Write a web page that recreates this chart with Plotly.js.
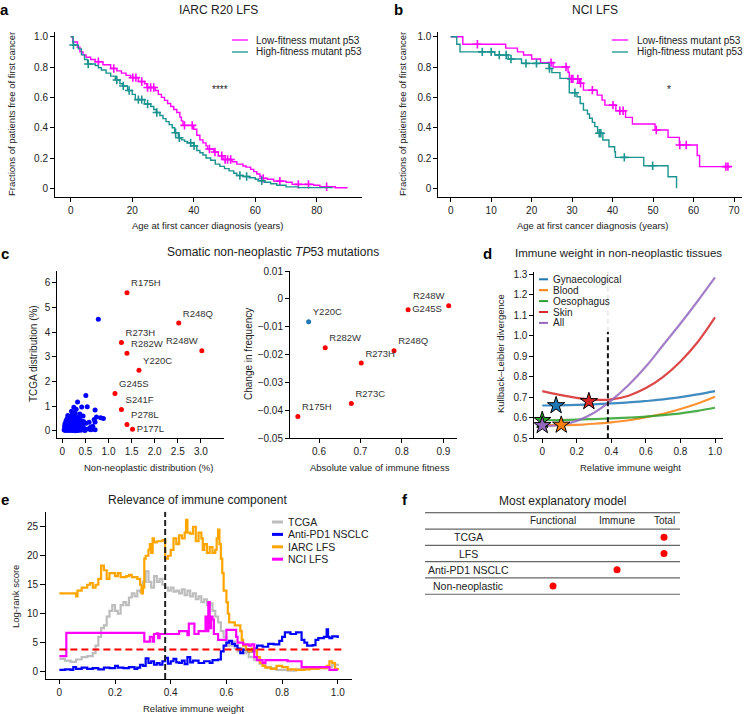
<!DOCTYPE html>
<html><head><meta charset="utf-8">
<script src="https://cdn.plot.ly/plotly-3.0.1.min.js"></script>
<style>html,body{margin:0;padding:0;background:#fff}</style>
</head><body><div id="chart" style="width:747px;height:714px"></div>
<script>
// ---------------- DATA ----------------
// Panel a: IARC R20 LFS Kaplan-Meier (step times / survival)
const aLowT = [0,0.7,2.2,3,4,5,6.5,8,10.5,13,15,16.5,18,19.5,22,24,24.8,27.5,28.5,29.5,30.5,31.5,32.5,33.5,34.5,35.5,36,36.5,40,41,42,43,44,44.5,46.5,48,49.5,52.5,54,56,57,58.5,59.5,60.5,61.5,62,64,66,70,72,79,81,86,90];
const aLowS = [1.0,0.965,0.93,0.9,0.88,0.865,0.85,0.835,0.815,0.79,0.775,0.76,0.745,0.73,0.705,0.69,0.665,0.645,0.62,0.60,0.58,0.56,0.54,0.52,0.50,0.47,0.445,0.415,0.39,0.35,0.32,0.30,0.28,0.26,0.24,0.215,0.19,0.175,0.16,0.147,0.14,0.125,0.11,0.095,0.08,0.066,0.06,0.048,0.04,0.026,0.02,0.011,0.004,0.004];
const aLowCens = [9,14,20.2,21.2,23.1,25,26,27,37,39.5,45.1,46.9,49.1,50.2,51,52,62.6,68,74,77.3,83.2];
const aHighT = [0,0.8,2.5,3.5,4.5,5.5,8,9,10,11.5,13,14.5,16,17,18.5,20,21,24,26,27,27.8,29,30,31,32,33,33.8,35,36,37,38,40,41,42,43,44,45.5,47,48.5,50,51.5,53,54,56,58,60,61,63,65,67,70,74,85];
const aHighS = [1.0,0.945,0.92,0.88,0.85,0.82,0.81,0.795,0.78,0.76,0.74,0.715,0.69,0.675,0.645,0.62,0.585,0.556,0.54,0.52,0.50,0.48,0.46,0.44,0.42,0.40,0.367,0.334,0.32,0.31,0.30,0.28,0.25,0.235,0.22,0.20,0.185,0.16,0.145,0.13,0.115,0.10,0.085,0.078,0.07,0.06,0.05,0.04,0.03,0.02,0.01,0.005,0.0];
const aHighCens = [0.9,5.7,15,17.1,19,22,23.1,25,28,34.1,35.3,39,40.1,55,57.2,62.1];

// Panel b: NCI LFS
const bLowT = [0,3,13.6,16.5,18,20,22.2,25.3,29,29.3,31.8,32.8,36.2,37.4,38.1,40.8,43.2,44.9,50.5,53.7,56.5,60.9,61.5,68.6];
const bLowS = [1.0,0.95,0.925,0.90,0.879,0.853,0.829,0.80,0.766,0.722,0.693,0.648,0.615,0.582,0.549,0.512,0.468,0.424,0.385,0.336,0.286,0.217,0.143,0.143];
const bLowCens = [6.6,24.8,28.5,29.8,30.2,31.4,32.1,35.0,40.1,41.8,42.6,50.8,56.6,58.2,68.0,68.5];
const bHighT = [0,1.5,2.3,10.9,14.2,17.5,24.3,25,27,29.3,31.2,32,32.8,33.8,34.3,35,35.6,36.3,37.6,39.1,40.5,40.7,47.7,53.7,55.8];
const bHighS = [1.0,0.95,0.90,0.879,0.853,0.824,0.79,0.763,0.725,0.63,0.604,0.56,0.516,0.49,0.462,0.435,0.407,0.363,0.319,0.274,0.241,0.204,0.149,0.077,0.0];
const bHighCens = [7.8,10.0,12.0,13.7,14.9,18.6,21.2,24.4,30.7,36.7,37.1,42.9,49.9];

const kmNames = ['Low-fitness mutant p53','High-fitness mutant p53'];
const aSignif = '****';
const bSignif = '*';

// Panel c (left): TCGA vs non-neoplastic distribution
const cLabels = ['R175H','R248Q','R248W','R273H','R282W','Y220C','G245S','S241F','P278L','P177L'];
const cLabX = [1.40,2.52,3.02,1.28,1.40,1.66,1.14,1.28,1.40,1.52];
const cLabY = [5.60,4.37,3.25,3.58,3.15,2.46,1.52,0.87,0.26,0.07];
const cOtherX = [0.78,0.51,0.33,0.54,0.25,0.42,0.71,0.89,0.83,0.74,0.69,0.58,0.51,0.71,0.62,0.71,0.56,0.49,0.61,0.66,0.30,0.20,0.28,0.38,0.45,0.35,0.22,0.15,0.12,0.18,0.25,0.30,0.40,0.46,0.10,0.08,0.14,0.20,0.26,0.33,0.38,0.44,0.06,0.10,0.16,0.22,0.28,0.34,0.40,0.05,0.09,0.13,0.18,0.24,0.30,0.36,0.05,0.08,0.12,0.16,0.20,0.26,0.32,0.04,0.07,0.10,0.14,0.18,0.22,0.28,0.34,0.40,0.44,0.11,0.15,0.19,0.24,0.29,0.32,0.12,0.07,0.09,0.17,0.21,0.27,0.31,0.37,0.42,0.48,0.06,0.13,0.23,0.35];
const cOtherY = [4.52,1.43,1.17,0.98,0.96,0.97,0.85,0.50,0.53,0.56,0.46,0.35,0.31,0.36,0.05,0.05,0.08,0.02,0.15,0.19,0.88,0.80,0.72,0.68,0.60,0.55,0.66,0.58,0.62,0.50,0.52,0.45,0.42,0.38,0.48,0.40,0.42,0.38,0.34,0.30,0.25,0.22,0.30,0.32,0.30,0.28,0.24,0.18,0.12,0.20,0.22,0.20,0.18,0.16,0.12,0.08,0.10,0.12,0.10,0.08,0.10,0.06,0.04,0.04,0.02,0.04,0.02,0.03,0.02,0.01,0.02,0.03,0.06,0.15,0.25,0.45,0.40,0.58,0.38,0.52,0.14,0.06,0.13,0.22,0.30,0.20,0.35,0.30,0.10,0.06,0.34,0.58,0.48];

// Panel c (right): change in frequency vs immune fitness
const cRLabels = ['Y220C','R282W','R175H','R273C','R273H','R248Q','G245S','R248W'];
const cRX = [0.575,0.615,0.549,0.678,0.702,0.781,0.815,0.913];
const cRY = [-0.0082,-0.0175,-0.0422,-0.0375,-0.0230,-0.0186,-0.0039,-0.0025];
const cRHighlight = 'Y220C';

// Panel d: KL divergence vs relative immune weight
const dTissues = ['Gynaecological','Blood','Oesophagus','Skin','All'];
const dX = [0,0.1,0.2,0.3,0.4,0.5,0.6,0.7,0.8,0.9,1.0];
const dGyn = [0.660,0.661,0.663,0.666,0.670,0.675,0.682,0.690,0.701,0.714,0.730];
const dBlood = [0.565,0.564,0.566,0.571,0.578,0.588,0.603,0.620,0.643,0.670,0.703];
const dOeso = [0.588,0.589,0.591,0.594,0.597,0.601,0.606,0.613,0.622,0.634,0.649];
const dSkin = [0.730,0.712,0.697,0.688,0.690,0.708,0.745,0.800,0.875,0.970,1.090];
const dAll = [0.560,0.565,0.585,0.625,0.685,0.760,0.850,0.955,1.060,1.170,1.285];
const dStarX = [0.08,0.11,0.0,0.27,0.0];
const dStarY = [0.660,0.565,0.588,0.680,0.563];
const dOptimal = 0.38;
const dOptimalTop = 1.02;

// Panel e: log-rank score vs relative immune weight
const eNames = ['TCGA','Anti-PD1 NSCLC','IARC LFS','NCI LFS'];
const eTcgaX = [0,0.02,0.04,0.06,0.08,0.1,0.12,0.13,0.14,0.15,0.16,0.17,0.18,0.19,0.2,0.21,0.22,0.23,0.24,0.25,0.26,0.27,0.28,0.29,0.3,0.31,0.32,0.33,0.34,0.35,0.36,0.37,0.38,0.39,0.4,0.41,0.42,0.43,0.44,0.45,0.46,0.47,0.48,0.49,0.5,0.51,0.52,0.53,0.54,0.55,0.56,0.57,0.58,0.59,0.6,0.61,0.62,0.63,0.64,0.65,0.66,0.67,0.68,0.7,0.72,0.74,0.76,0.78,0.8,0.82,0.85,0.88,0.9,0.93,0.96,0.98,1.0];
const eTcgaY = [2.2,1.9,1.7,2.1,2.5,2.7,3.2,4.5,6,7.5,8,9.5,10.5,11.5,10.5,10,11.5,12,11.5,12.8,13.5,13,14,13.8,15.5,17.3,15.5,14.5,16.5,15.5,16,15,14.5,14,14.5,13.8,14,13.5,14.2,13.2,14,13,13.5,12.5,13,12,12.5,11.5,11.8,10.5,9.5,8.5,7,6,5,4.5,5.2,4,3.5,4,3.2,3.5,2.5,2,1.3,0.8,0.6,0.3,0.3,0.2,0.4,0.6,0.5,0.6,0.8,1.2,1.0];
const ePd1X = [0,0.02,0.04,0.05,0.06,0.08,0.1,0.12,0.14,0.16,0.18,0.2,0.21,0.23,0.25,0.27,0.28,0.29,0.3,0.31,0.32,0.33,0.34,0.35,0.36,0.37,0.38,0.39,0.4,0.41,0.42,0.43,0.44,0.45,0.46,0.47,0.48,0.5,0.52,0.54,0.55,0.57,0.58,0.59,0.6,0.61,0.62,0.63,0.64,0.65,0.66,0.68,0.7,0.71,0.73,0.75,0.77,0.79,0.8,0.81,0.83,0.85,0.87,0.88,0.89,0.91,0.92,0.93,0.95,0.96,0.965,0.97,0.98,1.0];
const ePd1Y = [0.3,0.4,0.3,0.8,0.5,0.7,0.5,0.6,0.4,0.7,0.6,1.0,0.7,0.6,0.8,0.5,0.7,1.2,1.0,2.3,1.5,1.8,1.2,1.5,1.2,1.8,2.4,1.4,1.8,2.2,1.6,1.5,1.9,1.3,2.5,1.6,1.9,1.5,1.8,1.5,2.0,2.1,3.5,4.5,5.0,5.3,4.8,4.5,4.0,3.2,3.8,3.5,4.0,4.5,4.3,4.8,4.7,5.3,6.0,6.8,6.5,6.8,5.5,5.0,4.5,4.6,5.5,5.8,6.0,7.3,6.0,5.8,6.1,5.8];
const eIarcX = [0,0.06,0.065,0.08,0.1,0.11,0.12,0.13,0.14,0.15,0.16,0.17,0.18,0.2,0.21,0.22,0.24,0.25,0.26,0.28,0.29,0.295,0.3,0.305,0.31,0.32,0.325,0.33,0.335,0.34,0.35,0.37,0.38,0.39,0.4,0.41,0.42,0.43,0.44,0.45,0.455,0.46,0.47,0.48,0.49,0.5,0.51,0.515,0.52,0.53,0.54,0.55,0.56,0.565,0.57,0.575,0.58,0.585,0.59,0.6,0.605,0.61,0.63,0.65,0.655,0.66,0.67,0.68,0.69,0.7,0.71,0.72,0.73,0.74,0.76,0.78,0.8,0.82,0.85,0.88,0.9,0.93,0.96,0.97,0.98,0.99,1.0];
const eIarcY = [13.5,13,14,14.5,15,15.3,14.5,15,16,18.3,17.5,16,17,16.5,17,16.3,16.5,16.7,16.3,16,15,13.5,14.5,19.5,20,21,22,20.5,23,22.3,22.5,22.7,19.5,20,21,23,22,23.5,23,24,26.2,24,23.8,25,22.5,24,23,21,22,20.5,21.5,20.5,21,23,24.5,22,19.5,17,14,12,10,8.5,8,7,5.5,4.5,3.8,3.5,4,3.7,2.5,1.5,1,0.7,0.5,1,0.8,0.4,0.3,0.4,0.5,0.6,1,1.8,1.5,0.5,0.3];
const eNciX = [0,0.025,0.3,0.305,0.32,0.325,0.33,0.335,0.34,0.35,0.355,0.36,0.43,0.46,0.465,0.48,0.485,0.5,0.52,0.525,0.53,0.535,0.54,0.545,0.55,0.555,0.57,0.6,0.635,0.64,0.66,0.68,0.69,0.7,0.71,0.73,0.74,0.8,0.82,0.84,0.87,0.95,0.97,1.0];
const eNciY = [2.7,6.7,6.7,5.2,5.2,6.0,6.0,5.2,6.5,6.6,5.8,6.5,7.0,6.3,8.3,8.3,6.5,7.0,7.0,9.5,7.0,12.0,7.5,9.5,9.0,6.5,5.5,7.2,6.0,5.0,4.7,4.5,4.7,2.5,2.0,1.5,2.0,2.0,1.8,1.8,0.8,0.8,0.3,0.3];
const eThreshold = 3.84;
const eOptimal = 0.38;

// Panel f: most explanatory model
const fRows = ['TCGA','LFS','Anti-PD1 NSCLC','Non-neoplastic'];
const fCols = ['Functional','Immune','Total'];
const fBest = ['Total','Total','Immune','Functional'];

// ---------------- LAYOUT HELPERS ----------------
const W = 747, H = 714;
const FONT = 'Liberation Sans, Arial, Helvetica, sans-serif';
const dxp = (l, r) => [l / W, r / W];
const dyp = (t, b) => [1 - b / H, 1 - t / H];
const px = x => x / W, py = y => 1 - y / H;
function axis(domain, range, tickvals, ticktext, anchor, extra) {
  return Object.assign({
    domain, range, tickvals, ticktext, anchor,
    showline: true, linecolor: '#000', linewidth: 1,
    ticks: 'outside', ticklen: 4, tickwidth: 1, tickcolor: '#000',
    showgrid: false, zeroline: false, fixedrange: true,
    tickfont: { size: 10, color: '#222', family: FONT }
  }, extra || {});
}
const fmt = v => (v === 0 ? '0' : (Math.abs(v) < 0.1 ? String(v) : v.toFixed(1))).replace('-', '\u2212');
const stepAt = (T, S, t) => { let s = S[0]; for (let i = 0; i < T.length; i++) if (T[i] <= t) s = S[i]; return s; };

const MAG = '#ff00ff', TEAL = '#1b9390';
const traces = [];
function km(T, S, C, color, xa, ya) {
  traces.push({ x: T, y: S, xaxis: xa, yaxis: ya, mode: 'lines', line: { shape: 'hv', color, width: 1.4 }, hoverinfo: 'skip', showlegend: false });
  traces.push({ x: C, y: C.map(c => stepAt(T, S, c)), xaxis: xa, yaxis: ya, mode: 'markers',
    marker: { symbol: 'cross-thin', size: 6, color, line: { color, width: 1.6 } }, hoverinfo: 'skip', showlegend: false });
}
km(aLowT, aLowS, aLowCens, MAG, 'x', 'y');
km(aHighT, aHighS, aHighCens, TEAL, 'x', 'y');
km(bLowT, bLowS, bLowCens, MAG, 'x2', 'y2');
km(bHighT, bHighS, bHighCens, TEAL, 'x2', 'y2');

// panel c left
const cLabPos = ['top right','top right','top left','top right','top right','top right','top right','top right','top right','middle right'];
traces.push({ x: cOtherX, y: cOtherY, xaxis: 'x3', yaxis: 'y3', mode: 'markers', marker: { color: '#0000ff', size: 5 }, showlegend: false, hoverinfo: 'skip' });
traces.push({ x: cLabX, y: cLabY, text: cLabels, textposition: cLabPos, xaxis: 'x3', yaxis: 'y3', mode: 'markers+text',
  marker: { color: '#ff0000', size: 5 }, textfont: { size: 9.5, color: '#333', family: FONT }, showlegend: false, hoverinfo: 'skip' });
// panel c right
const cRPos = cRLabels.map(l => l === 'G245S' ? 'middle right' : (l === 'R248W' ? 'top left' : 'top right'));
traces.push({ x: cRX, y: cRY, text: cRLabels, textposition: cRPos, xaxis: 'x4', yaxis: 'y4', mode: 'markers+text',
  marker: { color: cRLabels.map(l => l === cRHighlight ? '#1f77b4' : '#ff0000'), size: 5 },
  textfont: { size: 9.5, color: '#333', family: FONT }, showlegend: false, hoverinfo: 'skip' });

// panel d
const dColors = ['#1f77b4','#ff7f0e','#2ca02c','#d62728','#9467bd'];
const dSeries = [dGyn, dBlood, dOeso, dSkin, dAll];
dSeries.forEach((ys, i) => traces.push({ x: dX, y: ys, xaxis: 'x5', yaxis: 'y5', mode: 'lines',
  line: { color: dColors[i], width: 2.2, shape: 'spline', smoothing: 1.0 }, opacity: 0.85, showlegend: false, hoverinfo: 'skip' }));
traces.push({ x: [dOptimal, dOptimal], y: [0.5, dOptimalTop], xaxis: 'x5', yaxis: 'y5', mode: 'lines',
  line: { color: '#111', width: 2, dash: '5px,3px' }, showlegend: false, hoverinfo: 'skip' });
traces.push({ x: [dOptimal, dOptimal], y: [dOptimalTop, 1.313], xaxis: 'x5', yaxis: 'y5', mode: 'lines',
  line: { color: '#e6e6e6', width: 1.5, dash: '5px,3px' }, showlegend: false, hoverinfo: 'skip' });
traces.push({ x: dStarX, y: dStarY, xaxis: 'x5', yaxis: 'y5', mode: 'markers',
  marker: { symbol: 'star', size: 13, color: dColors, line: { color: '#000', width: 1 } }, showlegend: false, hoverinfo: 'skip' });

// panel e
const eColors = ['#bdbdbd','#0000ff','#ffa500','#ff00ff'];
[[eTcgaX, eTcgaY], [ePd1X, ePd1Y], [eIarcX, eIarcY], [eNciX, eNciY]].forEach((s, i) => traces.push({ x: s[0], y: s[1], xaxis: 'x6', yaxis: 'y6',
  mode: 'lines', line: { color: eColors[i], width: 2.2, shape: 'hv' }, showlegend: false, hoverinfo: 'skip' }));
traces.push({ x: [0, 1.02], y: [eThreshold, eThreshold], xaxis: 'x6', yaxis: 'y6', mode: 'lines',
  line: { color: '#ff0000', width: 2, dash: '7px,4px' }, showlegend: false, hoverinfo: 'skip' });
traces.push({ x: [eOptimal, eOptimal], y: [-1.26, 27.6], xaxis: 'x6', yaxis: 'y6', mode: 'lines',
  line: { color: '#222', width: 2, dash: '6px,3px' }, showlegend: false, hoverinfo: 'skip' });

// panel f
const fColX = { label: 468, Functional: 553, Immune: 617, Total: 664 };
traces.push({ x: fBest.map(c => fColX[c]), y: fRows.map((r, i) => i), xaxis: 'x7', yaxis: 'y7', mode: 'markers',
  marker: { color: '#ff0000', size: 7 }, showlegend: false, hoverinfo: 'skip' });

// ---------------- ANNOTATIONS & SHAPES ----------------
const ann = [], shapes = [];
function txt(x, y, text, size, opts) {
  ann.push(Object.assign({ x: px(x), y: py(y), xref: 'paper', yref: 'paper', text, showarrow: false,
    xanchor: 'center', yanchor: 'middle', font: { size, color: '#222', family: FONT } }, opts || {}));
}
// panel letters
[['a',4,10],['b',398,10],['c',5,253],['d',487,253],['e',5,500],['f',405,500]].forEach(l =>
  txt(l[1], l[2], '<b>' + l[0] + '</b>', 15, { font: { size: 15, color: '#000', family: FONT } }));
// titles
txt(218, 10, 'IARC R20 LFS', 12);
txt(595, 10, 'NCI LFS', 12);
txt(273, 252, 'Somatic non-neoplastic <i>TP</i>53 mutations', 12);
txt(618, 253, 'Immune weight in non-neoplastic tissues', 11.5);
txt(197, 500, 'Relevance of immune component', 12);
txt(562, 501, 'Most explanatory model', 12);
// axis titles
const yt = { textangle: -90 };
txt(12, 114, 'Fractions of patients free of first cancer', 9.5, yt);
txt(208, 225, 'Age at first cancer diagnosis (years)', 9.5);
txt(403, 114, 'Fractions of patients free of first cancer', 9.5, yt);
txt(593, 225, 'Age at first cancer diagnosis (years)', 9.5);
txt(33, 354, 'TCGA distribution (%)', 10, yt);
txt(148, 467, 'Non-neoplastic distribution (%)', 9.5);
txt(248, 354, 'Change in frequency', 10, yt);
txt(380, 467, 'Absolute value of immune fitness', 9.5);
txt(500, 354, 'Kullback\u2013Leibler divergence', 9.5, yt);
txt(630, 467, 'Relative immune weight', 9.5);
txt(15, 597, 'Log-rank score', 9.5, yt);
txt(193, 708, 'Relative immune weight', 9.5);
// significance
ann.push({ x: 48.6, y: 0.655, xref: 'x', yref: 'y', text: aSignif, showarrow: false, font: { size: 10, color: '#222', family: FONT } });
ann.push({ x: 53.9, y: 0.655, xref: 'x2', yref: 'y2', text: bSignif, showarrow: false, font: { size: 10, color: '#222', family: FONT } });
// manual legends
function legLine(x0, x1, y, color, width) {
  shapes.push({ type: 'line', xref: 'paper', yref: 'paper', x0: px(x0), x1: px(x1), y0: py(y), y1: py(y), line: { color, width } });
}
const legL = { xanchor: 'left' };
[[MAG, 40], [TEAL, 52]].forEach((e, i) => {
  legLine(232, 248, e[1], e[0], 1.3); txt(254, e[1], kmNames[i], 10, legL);
  legLine(612, 628, e[1], e[0], 1.3); txt(635, e[1], kmNames[i], 10, legL);
});
dTissues.forEach((n, i) => { const y = 279.3 + i * 10.9; legLine(539, 548, y, dColors[i], 2); txt(551, y, n, 10, legL); });
eNames.forEach((n, i) => { const y = 522 + i * 12.4; legLine(272, 283, y, eColors[i], 3); txt(286, y, n, 10.5, legL); });
// panel f table
for (let r = -1.5; r <= fRows.length - 0.5; r += 1) {
  shapes.push({ type: 'line', xref: 'x7', yref: 'y7', x0: 425, x1: 680, y0: r, y1: r, line: { color: r < -1 ? '#444' : '#666', width: 1.2 } });
}
fCols.forEach(c => ann.push({ x: fColX[c], y: -1, xref: 'x7', yref: 'y7', text: c, showarrow: false, font: { size: 10, color: '#222', family: FONT } }));
fRows.forEach((r, i) => ann.push({ x: fColX.label, y: i, xref: 'x7', yref: 'y7', text: r, showarrow: false, font: { size: 10.5, color: '#222', family: FONT } }));

// ---------------- AXES ----------------
const kmY = [0, 0.2, 0.4, 0.6, 0.8, 1.0];
const layout = {
  width: W, height: H, margin: { l: 0, r: 0, t: 0, b: 0 }, paper_bgcolor: '#fff', plot_bgcolor: 'rgba(0,0,0,0)',
  font: { family: FONT, color: '#222' }, showlegend: false,
  xaxis: axis(dxp(55, 362), [-5.1, 94.7], [0, 20, 40, 60, 80], ['0','20','40','60','80'], 'y'),
  yaxis: axis(dyp(31.7, 197), [-0.057, 1.033], kmY, kmY.map(fmt), 'x'),
  xaxis2: axis(dxp(438.3, 741.7), [-3.06, 71.9], [0,10,20,30,40,50,60,70], ['0','10','20','30','40','50','60','70'], 'y2'),
  yaxis2: axis(dyp(31.7, 197), [-0.057, 1.033], kmY, kmY.map(fmt), 'x2'),
  xaxis3: axis(dxp(57.3, 224), [-0.108, 3.5], [0,0.5,1,1.5,2,2.5,3], ['0','0.5','1.0','1.5','2.0','2.5','3.0'], 'y3'),
  yaxis3: axis(dyp(271, 438.3), [-0.3, 6.48], [0,1,2,3,4,5,6], ['0','1','2','3','4','5','6'], 'x3'),
  xaxis4: axis(dxp(290, 457), [0.53, 0.933], [0.6,0.7,0.8,0.9], ['0.6','0.7','0.8','0.9'], 'y4'),
  yaxis4: axis(dyp(271, 438.3), [-0.05, 0.01], [0.01,0,-0.01,-0.02,-0.03,-0.04,-0.05], ['0.01','0','\u22120.01','\u22120.02','\u22120.03','\u22120.04','\u22120.05'], 'x4'),
  xaxis5: axis(dxp(534.3, 723.3), [-0.046, 1.048], [0,0.2,0.4,0.6,0.8,1.0], ['0','0.2','0.4','0.6','0.8','1.0'], 'y5'),
  yaxis5: axis(dyp(271.7, 438.3), [0.5, 1.313], [0.5,0.6,0.7,0.8,0.9,1.0,1.1,1.2,1.3], ['0.5','0.6','0.7','0.8','0.9','1.0','1.1','1.2','1.3'], 'x5'),
  xaxis6: axis(dxp(46, 351.7), [-0.048, 1.05], [0,0.2,0.4,0.6,0.8,1.0], ['0','0.2','0.4','0.6','0.8','1.0'], 'y6'),
  yaxis6: axis(dyp(511.7, 679), [-1.26, 27.6], [0,5,10,15,20,25], ['0','5','10','15','20','25'], 'x6', { ticklen: 5 }),
  xaxis7: { domain: dxp(425, 680), range: [425, 680], visible: false, fixedrange: true, anchor: 'y7' },
  yaxis7: { domain: dyp(504.6, 602.4), range: [4, -2], visible: false, fixedrange: true, anchor: 'x7' },
  annotations: ann, shapes: shapes
};
Plotly.newPlot('chart', traces, layout, { staticPlot: true, displayModeBar: false });
</script></body></html>
